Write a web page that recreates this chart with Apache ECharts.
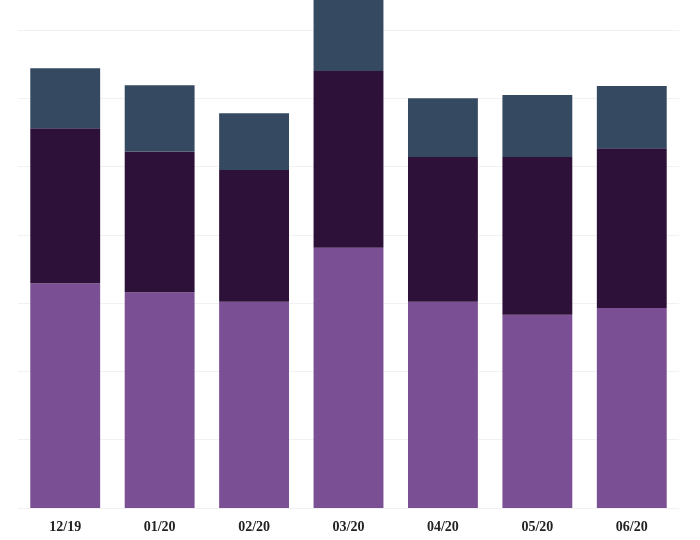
<!DOCTYPE html>
<html>
<head>
<meta charset="utf-8">
<script src="https://cdn.jsdelivr.net/npm/echarts@6/dist/echarts.min.js"></script>
<style>
    html, body { margin: 0; padding: 0; background: #fff; }
    #chart { width: 700px; height: 540px; }
</style>
</head>
<body>
<div id="chart"></div>
<script>
const months = ["12/19", "01/20", "02/20", "03/20", "04/20", "05/20", "06/20"];
const baseValues = [3.29, 3.16, 3.02, 3.81, 3.02, 2.83, 2.93];
const middleValues = [2.27, 2.06, 1.93, 2.59, 2.12, 2.31, 2.34];
const topValues = [0.88, 0.97, 0.83, 1.10, 0.86, 0.91, 0.91];

const chart = echarts.init(document.getElementById("chart"));

function stackSeries(name, data, color) {
    return {
        name: name,
        type: "bar",
        stack: "total",
        data: data,
        barWidth: "74%",
        itemStyle: { color: color },
        emphasis: { disabled: true }
    };
}

chart.setOption({
    backgroundColor: "#ffffff",
    animation: false,
    grid: { left: 18, right: 21, top: 0, bottom: 32, containLabel: false },
    xAxis: {
        type: "category",
        data: months,
        axisLine: { show: false },
        axisTick: { show: false },
        axisLabel: {
            color: "#222",
            fontFamily: "Liberation Serif",
            fontWeight: "bold",
            fontSize: 14,
            margin: 12
        }
    },
    yAxis: {
        type: "value",
        min: 0,
        max: 7.44,
        interval: 1,
        axisLabel: { show: false },
        axisLine: { show: false },
        axisTick: { show: false },
        splitLine: { showMaxLine: false, lineStyle: { color: "#f1f1f3", width: 1 } }
    },
    series: [
        stackSeries("base", baseValues, "#7a4f94"),
        stackSeries("middle", middleValues, "#2e1139"),
        stackSeries("top", topValues, "#354a60")
    ]
});
</script>
</body>
</html>
